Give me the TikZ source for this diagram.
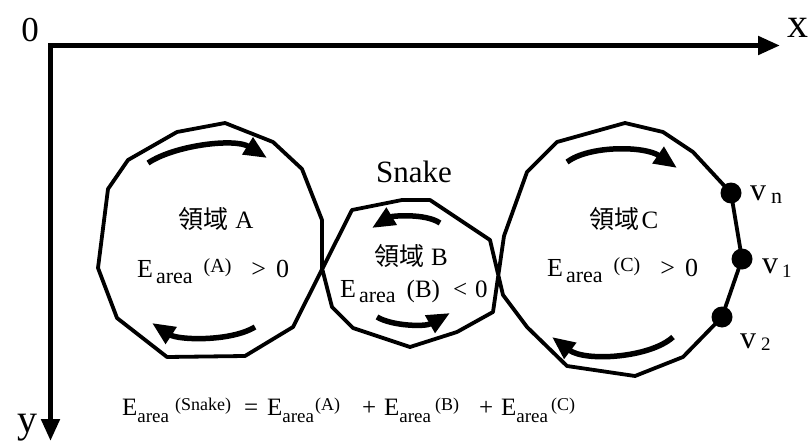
\documentclass[tikz,border=0pt]{standalone}
\usepackage{fontspec}
\setmainfont{Liberation Serif}
\newfontfamily\cjk{Noto Sans CJK TC}
\usetikzlibrary{arrows.meta}
% font size helper (pt = px at this scale)
\newcommand\fs[1]{\fontsize{#1}{#1}\selectfont}
% E_area^{(X)} term of the energy sum
\newcommand\Eterm[3]{{\fs{25}E}\hspace{#1}\raisebox{-7pt}{\fs{19}area}\hspace{#2}\raisebox{5pt}{\fs{18}(#3)}}
\begin{document}
\begin{tikzpicture}[x=1pt,y=-1pt,
  snake/.style={line width=3.8pt,line join=round},
  flow/.style={line width=5.5pt,-{Triangle[length=23pt,width=19pt]}},
  axis/.style={line width=5pt,line join=miter},
  txt/.style={inner sep=0pt,anchor=base west},
  ctxt/.style={inner sep=0pt,anchor=base},
  vdot/.style={circle,fill=black,inner sep=0pt,minimum size=21pt}]
\useasboundingbox (0,0) rectangle (812,444);

% image coordinate axes
\coordinate (origin) at (50.5,45.5);
\coordinate (xend) at (780,45.5);
\coordinate (yend) at (50.5,441);
\draw[axis,{Triangle[length=22pt,width=18pt]}-{Triangle[length=22pt,width=18pt]}]
  (yend) -- (origin) -- (xend);
\node[ctxt,font=\fs{35}] (zero) at (30,42) {0};
\node[ctxt,font=\fs{42}] (xlbl) at (798,38) {x};
\node[ctxt,font=\fs{40}] (ylbl) at (27,432) {y};

% the snake contour: three loops crossing twice
\draw[snake] (225,123) -- (273,142) -- (302,169) -- (322,220) -- (322,268)
  -- (332,307) -- (353,328) -- (410,347) -- (457,332) -- (493,312)
  -- (504,236) -- (527,172) -- (557,142) -- (625,123) -- (663,132)
  -- (693,152) -- (731,193) -- (742,259) -- (722,317) -- (683,357)
  -- (635,376) -- (567,366) -- (527,327) -- (503,295) -- (490,240)
  -- (430,200) -- (402,200) -- (352,210) -- (293,327) -- (245,356)
  -- (167,357) -- (117,318) -- (98,268) -- (108,189) -- (128,160)
  -- (177,132) -- cycle;

% snake points
\node[vdot] (dn) at (731,193) {};
\node[vdot] (d1) at (742,259) {};
\node[vdot] (d2) at (722,317) {};
\node[txt] (vn) at (750,200) {{\fs{32}v}\hspace{5pt}\raisebox{-3pt}{\fs{22}n}};
\node[txt] (v1) at (762,273) {{\fs{32}v}\hspace{4pt}\raisebox{-4pt}{\fs{19}1}};
\node[txt] (v2) at (740,348) {{\fs{32}v}\hspace{5pt}\raisebox{-2pt}{\fs{19}2}};

% orientation arrows of each loop
\draw[flow] (148,163) .. controls (175,145) and (235,138) .. (267,158);
\draw[flow] (255,327) .. controls (230,342) and (178,340) .. (152,323);
\draw[flow] (440,223) .. controls (425,213) and (392,216) .. (372,228);
\draw[flow] (377,317) .. controls (392,326) and (425,327) .. (450,313);
\draw[flow] (567,162) .. controls (590,145) and (645,146) .. (677,168);
\draw[flow] (673,337) .. controls (650,358) and (585,362) .. (552,337);

% labels
\node[ctxt,font=\fs{31}] (snakelbl) at (414,182) {Snake};
\node[ctxt,font=\fs{25}] (labA) at (216,228) {{\cjk 領域}\hspace{7pt}A};
\node[ctxt,font=\fs{25}] (labB) at (411,265) {{\cjk 領域}\hspace{7pt}B};
\node[ctxt,font=\fs{25}] (labC) at (624,228) {{\cjk 領域}\hspace{2pt}C};

\node[txt] (eA) at (137,277) {{\fs{26}E}\hspace{3pt}\raisebox{-6pt}{\fs{22}area}\hspace{11pt}\raisebox{5pt}{\fs{20}(A)}\hspace{20pt}{\fs{26}>\hspace{10pt}0}};
\node[txt] (eB) at (340,297) {{\fs{26}E}\hspace{3pt}\raisebox{-5pt}{\fs{22}area}\hspace{11pt}{\fs{25}(B)\hspace{13pt}<\hspace{8pt}0}};
\node[txt] (eC) at (547,276) {{\fs{26}E}\hspace{3pt}\raisebox{-6pt}{\fs{22}area}\hspace{11pt}\raisebox{5pt}{\fs{20}(C)}\hspace{20pt}{\fs{26}>\hspace{10pt}0}};

% total energy as the sum over the loops
\node[txt] (tS) at (122,415) {\Eterm{0pt}{6pt}{Snake}};
\node[txt,font=\fs{25}] (eq) at (244,415) {=};
\node[txt] (tA) at (267,415) {\Eterm{0pt}{1pt}{A}};
\node[txt,font=\fs{25}] (p1) at (362,415) {+};
\node[txt] (tB) at (384,415) {\Eterm{0pt}{4pt}{B}};
\node[txt,font=\fs{25}] (p2) at (479,415) {+};
\node[txt] (tC) at (501,415) {\Eterm{0pt}{3pt}{C}};
\end{tikzpicture}
\end{document}
